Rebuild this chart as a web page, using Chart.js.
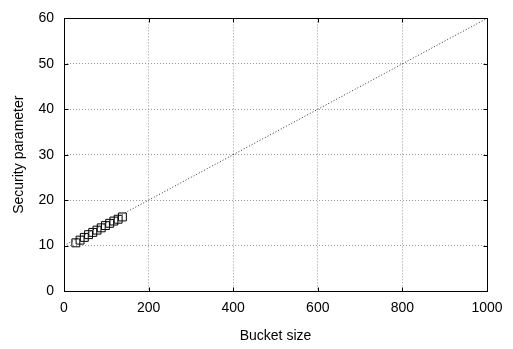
<!DOCTYPE html>
<html>
<head>
<meta charset="utf-8">
<script src="https://cdn.jsdelivr.net/npm/chart.js@4/dist/chart.umd.min.js"></script>
<style>
  html, body { margin: 0; padding: 0; background: #fff; }
  #wrap { width: 513px; height: 349px; }
</style>
</head>
<body>
<div id="wrap"><canvas id="c"></canvas></div>
<script>
// measured points (bucket size vs security parameter)
const bucketSizes = [28, 38, 48, 58, 68, 78, 88, 98, 108, 118, 128, 138];
const securityParams = [10.6, 11.2, 11.8, 12.4, 12.9, 13.4, 13.9, 14.4, 14.9, 15.4, 15.8, 16.3];
// dotted trend line
const trendX = [0, 1000];
const trendY = [10, 60];

const xTicks = [0, 200, 400, 600, 800, 1000];
const yTicks = [0, 10, 20, 30, 40, 50, 60];

const font = { family: 'Liberation Sans, Arial, sans-serif', size: 14 };

// box round the plot plus small inward tick marks, gnuplot style
const frame = {
  id: 'frame',
  afterDatasetsDraw(chart) {
    const a = chart.chartArea, ctx = chart.ctx;
    const L = Math.round(a.left) + 0.5, R = Math.round(a.right) + 0.5;
    const T = Math.round(a.top) + 0.5, B = Math.round(a.bottom) + 0.5;
    ctx.save();
    ctx.strokeStyle = '#000';
    ctx.lineWidth = 1;
    ctx.strokeRect(L, T, R - L, B - T);
    ctx.beginPath();
    chart.scales.y.ticks.forEach(t => {
      const py = Math.round(chart.scales.y.getPixelForValue(t.value)) + 0.5;
      ctx.moveTo(L, py); ctx.lineTo(L + 4, py);
      ctx.moveTo(R, py); ctx.lineTo(R - 4, py);
    });
    chart.scales.x.ticks.forEach(t => {
      const px = Math.round(chart.scales.x.getPixelForValue(t.value)) + 0.5;
      ctx.moveTo(px, B); ctx.lineTo(px, B - 4);
      ctx.moveTo(px, T); ctx.lineTo(px, T + 4);
    });
    ctx.stroke();
    ctx.restore();
  }
};

const gridColor = (ctx) => {
  const v = ctx.tick && ctx.tick.value;
  const s = ctx.scale;
  return (v === s.min || v === s.max) ? 'rgba(0,0,0,0)' : '#999';
};

new Chart(document.getElementById('c'), {
  type: 'scatter',
  data: {
    datasets: [
      {
        data: trendX.map((x, i) => ({ x, y: trendY[i] })),
        showLine: true,
        borderColor: '#333',
        borderWidth: 1,
        borderDash: [1, 2],
        pointRadius: 0,
        order: 2
      },
      {
        data: bucketSizes.map((x, i) => ({ x, y: securityParams[i] })),
        pointStyle: 'rect',
        pointRadius: 5.6,
        borderColor: '#000',
        borderWidth: 1,
        backgroundColor: 'rgba(0,0,0,0)',
        order: 1
      }
    ]
  },
  options: {
    responsive: true,
    maintainAspectRatio: false,
    animation: false,
    layout: { padding: { top: 8, right: 26, left: 7, bottom: 0 } },
    plugins: { legend: { display: false }, tooltip: { enabled: false } },
    scales: {
      x: {
        type: 'linear', min: 0, max: 1000,
        afterBuildTicks: (s) => { s.ticks = xTicks.map(v => ({ value: v })); },
        afterFit: (s) => { s.height = 58; },
        grid: { color: gridColor, lineWidth: 1, drawTicks: false },
        border: { display: false, dash: [1, 2] },
        ticks: { color: '#000', font, padding: 9, maxRotation: 0, callback: (v) => String(v) },
        title: { display: true, text: 'Bucket size', color: '#000', font, padding: { top: 6 } }
      },
      y: {
        type: 'linear', min: 0, max: 60,
        afterBuildTicks: (s) => { s.ticks = yTicks.map(v => ({ value: v })); },
        afterFit: (s) => { s.width = 57; },
        grid: { color: gridColor, lineWidth: 1, drawTicks: false },
        border: { display: false, dash: [1, 2] },
        ticks: { color: '#000', font, padding: 10, callback: (v) => String(v) },
        title: { display: true, text: 'Security parameter', color: '#000', font, padding: { bottom: 2 } }
      }
    }
  },
  plugins: [frame]
});
</script>
</body>
</html>
